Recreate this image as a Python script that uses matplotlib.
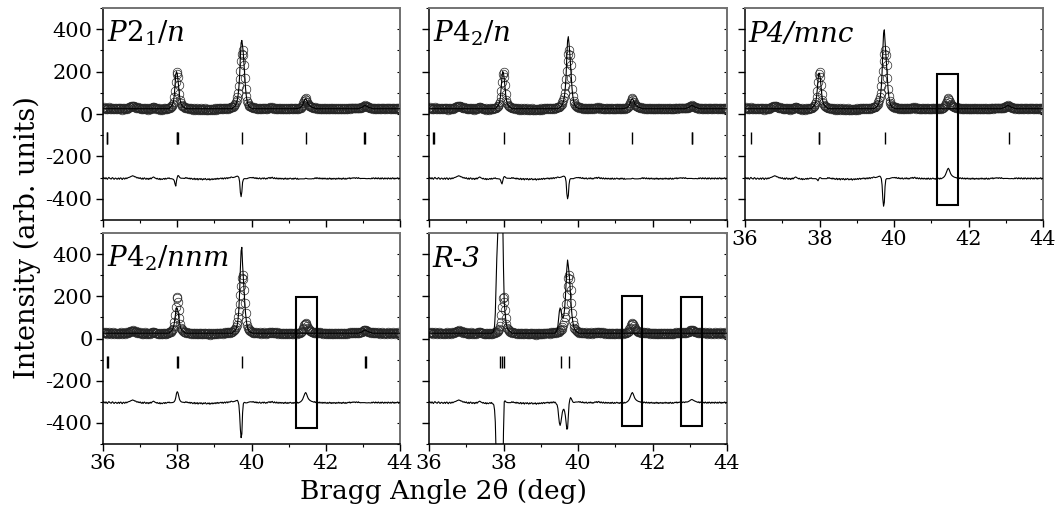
import numpy as np
import matplotlib
matplotlib.use("Agg")
import matplotlib.pyplot as plt
from matplotlib.patches import Rectangle
from matplotlib.ticker import MultipleLocator

plt.rcParams['font.family'] = ['DejaVu Serif']
plt.rcParams['mathtext.fontset'] = 'custom'
plt.rcParams['mathtext.rm'] = 'DejaVu Serif'
plt.rcParams['mathtext.it'] = 'DejaVu Serif:italic'
plt.rcParams['axes.unicode_minus'] = False

# ---------------- data ----------------
angle_start = 36.0
angle_step = 0.02
obs_intensity = [
    28, 31, 26, 24, 30, 25, 22, 28, 31, 27, 25, 23, 28, 30, 25, 22, 26, 28, 25, 22,
    26, 28, 22, 27, 29, 24, 21, 27, 28, 23, 25, 29, 25, 28, 30, 31, 32, 34, 36, 37,
    39, 37, 36, 33, 34, 30, 28, 31, 27, 26, 30, 25, 23, 28, 22, 27, 29, 24, 22, 27,
    25, 21, 27, 23, 28, 24, 29, 31, 33, 31, 28, 27, 24, 27, 23, 22, 26, 20, 25, 22,
    21, 25, 26, 22, 27, 23, 25, 28, 26, 29, 30, 33, 36, 40, 47, 58, 78, 110, 150, 190,
    196, 175, 135, 95, 68, 52, 44, 39, 36, 33, 31, 30, 27, 30, 26, 27, 24, 28, 23, 27,
    25, 21, 24, 27, 20, 25, 22, 26, 19, 24, 25, 21, 26, 22, 19, 25, 21, 24, 26, 20,
    20, 24, 21, 25, 18, 22, 24, 20, 25, 21, 23, 26, 21, 25, 27, 22, 26, 24, 27, 28,
    24, 28, 23, 27, 29, 24, 28, 30, 25, 29, 30, 28, 32, 33, 31, 35, 38, 42, 47, 55,
    65, 80, 100, 130, 165, 205, 250, 285, 303, 280, 230, 170, 120, 85, 62, 50, 43, 39, 36, 34,
    32, 31, 28, 31, 27, 26, 30, 25, 28, 24, 26, 29, 24, 23, 27, 28, 24, 29, 26, 23,
    27, 24, 28, 30, 27, 31, 26, 30, 32, 27, 25, 30, 26, 24, 29, 25, 23, 28, 24, 27,
    23, 27, 25, 22, 27, 23, 28, 24, 22, 27, 23, 25, 28, 26, 23, 26, 22, 27, 24, 28,
    26, 23, 28, 24, 26, 28, 30, 33, 37, 43, 52, 62, 70, 74, 68, 58, 49, 43, 39, 36,
    34, 32, 31, 30, 28, 31, 26, 30, 25, 29, 27, 24, 29, 25, 24, 28, 23, 27, 24, 28,
    24, 23, 27, 22, 25, 28, 23, 27, 22, 26, 23, 27, 25, 22, 27, 23, 25, 28, 23, 27,
    25, 22, 27, 23, 28, 25, 22, 27, 23, 25, 28, 26, 29, 24, 28, 26, 29, 27, 30, 28,
    26, 30, 28, 26, 30, 28, 30, 29, 31, 33, 35, 38, 40, 41, 39, 37, 35, 33, 32, 30,
    29, 27, 30, 25, 29, 27, 24, 29, 25, 28, 24, 29, 26, 23, 28, 24, 29, 26, 23, 28,
    24, 28, 26, 23, 29, 26, 24, 28, 23, 27, 29, 24, 28, 23, 27, 25, 28, 29, 23, 27,
    25,
]
calc_background = 25
diff_offset = -305

# calculated profile windows (start angle, values on the 0.02 deg grid)
calc_41p5 = (41.20, [26, 26, 26, 27, 28, 29, 31, 34, 38, 44, 53, 63, 70, 72, 67, 58,
                     50, 44, 40, 37, 35, 33, 31, 30, 29, 28])
calc_43p05 = (42.90, [27, 28, 29, 30, 32, 34, 37, 39, 40, 39, 37, 35, 33, 31, 30, 29, 28, 27])

calc_P21n = [
    (37.80, [30, 33, 36, 41, 49, 62, 88, 135, 185, 200, 190, 160, 122, 88, 64, 50, 42, 37, 34, 32, 30]),
    (39.50, [30, 32, 35, 39, 45, 54, 68, 90, 125, 180, 270, 335, 347, 320, 285, 230, 170, 120, 85, 62,
             48, 40, 35, 31, 29, 28]),
    calc_41p5, calc_43p05,
]
calc_P42n = [
    (37.80, [30, 33, 36, 41, 48, 60, 85, 128, 175, 200, 192, 165, 126, 90, 65, 50, 42, 37, 34, 32, 30]),
    (39.50, [30, 32, 35, 39, 45, 54, 68, 90, 125, 180, 275, 345, 365, 330, 285, 230, 170, 120, 85, 62,
             48, 40, 35, 31, 29, 28]),
    calc_41p5, calc_43p05,
]
calc_P4mnc = [
    (37.80, [30, 33, 36, 40, 47, 58, 80, 115, 160, 192, 192, 170, 132, 95, 68, 52, 44, 39, 36, 33, 31]),
    (39.50, [30, 32, 35, 39, 45, 54, 68, 92, 130, 195, 300, 380, 397, 340, 285, 230, 170, 120, 85, 62,
             48, 40, 35, 31, 29, 28]),
    calc_43p05,
]
calc_P42nnm = [
    (37.80, [30, 32, 35, 39, 45, 55, 72, 98, 125, 145, 143, 128, 103, 78, 58, 46, 40, 36, 33, 31, 30]),
    (39.50, [30, 32, 35, 39, 45, 54, 68, 95, 140, 220, 330, 415, 432, 350, 285, 228, 168, 120, 85, 62,
             48, 40, 35, 31, 29, 28]),
    calc_43p05,
]
calc_R3 = [
    (37.70, [27, 30, 38, 60, 120, 260, 380, 470, 560, 680, 780, 820, 800, 720, 560, 330, 170, 125,
             90, 65, 50, 43, 38, 35, 32, 30]),
    (39.40, [30, 34, 42, 60, 95, 130, 145, 135, 115, 100, 98, 110, 140, 190, 260, 330, 372, 345, 310,
             265, 205, 150, 108, 80, 60, 48, 40, 35, 32, 30, 28]),
]

bragg_P21n = [36.10, 36.12, 37.98, 38.00, 38.02, 39.75, 41.46, 43.04, 43.06]
bragg_P42n = [36.11, 36.13, 38.00, 39.77, 41.45, 43.05, 43.07]
bragg_P4mnc = [36.15, 37.98, 37.99, 39.75, 43.10]
bragg_P42nnm = [36.12, 36.14, 37.99, 38.01, 39.75, 43.07, 43.09]
bragg_R3 = [37.90, 37.95, 38.00, 39.55, 39.75]

# highlighted regions: (x0, x1, y0, y1)
boxes_P4mnc = [(41.16, 41.72, -427, 188)]
boxes_P42nnm = [(41.20, 41.77, -423, 196)]
boxes_R3 = [(41.17, 41.73, -415, 203), (42.77, 43.34, -416, 196)]

labels = [r'$\mathit{P2_1/n}$', r'$\mathit{P4_2/n}$', 'P4/mnc', r'$\mathit{P4_2/nnm}$', 'R-3']

two_theta = angle_start + angle_step * np.arange(len(obs_intensity))
obs = np.array(obs_intensity, float)


def build_calc(windows):
    calc = np.full(len(two_theta), float(calc_background))
    for start, vals in windows:
        i0 = int(round((start - angle_start) / angle_step))
        calc[i0:i0 + len(vals)] = vals
    return calc


# ---------------- layout (pixels) ----------------
W, H = 1060, 522
fig = plt.figure(figsize=(W / 100, H / 100), dpi=100)


def add_ax(x0, x1, ytop, ybot):
    return fig.add_axes([x0 / W, 1 - ybot / H, (x1 - x0) / W, (ybot - ytop) / H])


panels = [
    dict(pos=(103, 400, 8, 220), calc=calc_P21n, bragg=bragg_P21n, boxes=[], xl=False, yl=True),
    dict(pos=(429, 727, 8, 220), calc=calc_P42n, bragg=bragg_P42n, boxes=[], xl=False, yl=False),
    dict(pos=(745, 1043, 8, 220), calc=calc_P4mnc, bragg=bragg_P4mnc, boxes=boxes_P4mnc, xl=True, yl=False),
    dict(pos=(103, 400, 233, 444), calc=calc_P42nnm, bragg=bragg_P42nnm, boxes=boxes_P42nnm, xl=True, yl=True),
    dict(pos=(429, 727, 233, 444), calc=calc_R3, bragg=bragg_R3, boxes=boxes_R3, xl=True, yl=False),
]

for p, lab in zip(panels, labels):
    ax = add_ax(*p['pos'])
    calc = build_calc(p['calc'])
    ax.plot(two_theta, obs, 'o', ms=6.2, mfc='none', mec='0.15', mew=0.5, zorder=2)
    ax.plot(two_theta, calc, '-', color='k', lw=0.8, zorder=3)
    ax.plot(two_theta, obs - calc + diff_offset, '-', color='k', lw=0.8, zorder=3)
    ax.vlines(p['bragg'], -140, -85, color='k', lw=1.0, zorder=3)
    for (bx0, bx1, by0, by1) in p['boxes']:
        ax.add_patch(Rectangle((bx0, by0), bx1 - bx0, by1 - by0, fill=False,
                               ec='k', lw=1.5, zorder=4))
    ax.set_xlim(36, 44)
    ax.set_ylim(-500, 500)
    ax.xaxis.set_major_locator(MultipleLocator(2))
    ax.xaxis.set_minor_locator(MultipleLocator(1))
    ax.yaxis.set_major_locator(MultipleLocator(200))
    ax.yaxis.set_minor_locator(MultipleLocator(100))
    ax.tick_params(axis='both', which='major', direction='out', length=5, width=1,
                   labelsize=15, pad=2.5)
    ax.tick_params(axis='both', which='minor', direction='out', length=2.5, width=0.8)
    ax.tick_params(axis='x', labelbottom=p['xl'], top=False)
    ax.tick_params(axis='y', labelleft=p['yl'], right=False)
    for s in ('top', 'right'):
        ax.spines[s].set_color('0.45')
        ax.spines[s].set_linewidth(1.4)
    for s in ('left', 'bottom'):
        ax.spines[s].set_linewidth(1.1)
    sec = ax.secondary_yaxis('right')
    sec.yaxis.set_major_locator(MultipleLocator(200))
    sec.yaxis.set_minor_locator(MultipleLocator(100))
    sec.tick_params(which='both', direction='in', length=2.5, width=0.8, labelright=False)
    sec.spines['right'].set_color('0.45')
    sec.spines['right'].set_linewidth(1.4)
    ax.text(0.012, 0.84, lab, transform=ax.transAxes, fontsize=20, style='italic',
            ha='left', va='baseline', zorder=5)

fig.text(27 / W, 1 - 238 / H, 'Intensity (arb. units)', rotation=90,
         ha='center', va='center', fontsize=19.5)
fig.text(443 / W, 1 - 492 / H, 'Bragg Angle 2θ (deg)', ha='center', va='center', fontsize=19)

fig.savefig('out.png', dpi=100)
